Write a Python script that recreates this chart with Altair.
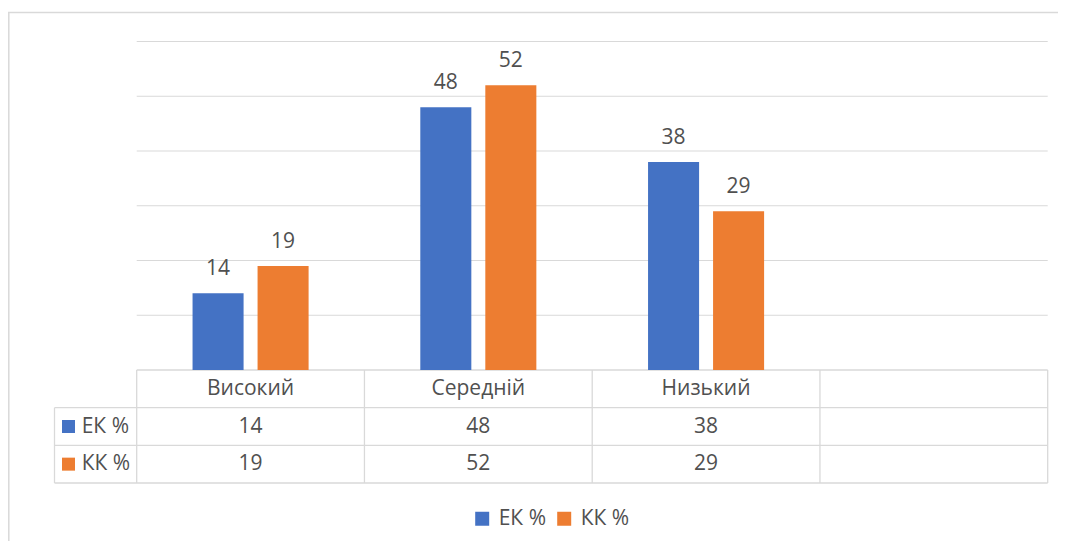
import altair as alt
import pandas as pd

categories = ["Високий", "Середній", "Низький"]
series = ["ЕК %", "КК %"]
ek_values = [14, 48, 38]
kk_values = [19, 52, 29]
grid_values = [10, 20, 30, 40, 50, 60]
colors = ["#4472C4", "#ED7D31"]

FONT = "Open Sans"
FS = 21
TXT = "#505050"
LINE = "#D9D9D9"

rows = []
for c, e, k in zip(categories, ek_values, kk_values):
    rows.append({"cat": c, "series": series[0], "value": e})
    rows.append({"cat": c, "series": series[1], "value": k})
df = pd.DataFrame(rows)

domain = categories + [""]
W, H = 1050, 533
X0, X1 = 128.7, 1039.7
XL = 46.5
Y_AX, Y_R1, Y_R2, Y_R3 = 362, 399.7, 437.3, 475

x_scale = alt.Scale(domain=domain, range=[X0, X1], paddingInner=0, paddingOuter=0)
y_scale = alt.Scale(domain=[0, 60], range=[Y_AX, 33.5])
xo_scale = alt.Scale(domain=series, paddingInner=0.215, paddingOuter=0.859)
color_scale = alt.Scale(domain=series, range=colors)

legend = alt.Legend(
    orient="none", legendX=463.7, legendY=500, direction="horizontal", title=None,
    symbolType="square", symbolSize=196, symbolStrokeWidth=0, labelFontSize=FS,
    labelFont=FONT, labelColor=TXT, labelOffset=6, columnPadding=7, padding=0,
)

X = alt.X("cat:N", scale=x_scale, axis=None)
XO = alt.XOffset("series:N", scale=xo_scale)
Y = alt.Y("value:Q", scale=y_scale, axis=None)
C = alt.Color("series:N", scale=color_scale, legend=legend)

base = alt.Chart(df)

grid = alt.Chart(pd.DataFrame({"value": grid_values})).mark_rule(
    color=LINE, strokeWidth=1.2
).encode(y=Y, x=alt.value(X0), x2=alt.value(X1))

bars = base.mark_bar().encode(x=X, xOffset=XO, y=Y, color=C)

labels = base.mark_text(dy=-24, fontSize=FS, font=FONT, color=TXT, baseline="middle").encode(
    x=X, xOffset=XO, y=Y, text="value:Q"
)

one = pd.DataFrame({"a": [0]})
def hline(y, x0, x1):
    return alt.Chart(one).mark_rule(color=LINE, strokeWidth=1.3).encode(
        y=alt.value(y), x=alt.value(x0), x2=alt.value(x1)
    )

def vline_value(x, y0, y1):
    return alt.Chart(one).mark_rule(color=LINE, strokeWidth=1.3).encode(
        x=alt.value(x), y=alt.value(y0), y2=alt.value(y1)
    )

vlines = alt.Chart(pd.DataFrame({"cat": domain})).mark_rule(color=LINE, strokeWidth=1.3).encode(
    x=alt.X("cat:N", scale=x_scale, axis=None, bandPosition=0),
    y=alt.value(Y_AX), y2=alt.value(Y_R3),
)

table_lines = [
    hline(Y_AX, X0, X1), hline(Y_R1, XL, X1), hline(Y_R2, XL, X1), hline(Y_R3, XL, X1),
    vline_value(X1, Y_AX, Y_R3), vline_value(XL, Y_R1, Y_R3), vlines,
]

header = alt.Chart(pd.DataFrame({"cat": categories})).mark_text(
    fontSize=FS, font=FONT, color=TXT, baseline="middle"
).encode(x=X, y=alt.value((Y_AX + Y_R1) / 2), text="cat:N")

row_layers = []
for s, (ya, yb) in zip(series, [(Y_R1, Y_R2), (Y_R2, Y_R3)]):
    yc = (ya + yb) / 2
    sub = base.transform_filter(alt.datum.series == s)
    row_layers.append(sub.mark_text(fontSize=FS, font=FONT, color=TXT, baseline="middle").encode(
        x=X, y=alt.value(yc), text="value:Q"))
    first = sub.transform_filter(alt.datum.cat == categories[0])
    row_layers.append(first.mark_square(size=169, opacity=1).encode(
        x=alt.value(60.5), y=alt.value(yc), color=C))
    row_layers.append(first.mark_text(fontSize=FS, font=FONT, color=TXT, align="left", baseline="middle").encode(
        x=alt.value(73.7), y=alt.value(yc), text="series:N"))

border = [
    alt.Chart(one).mark_rule(color=LINE, strokeWidth=1.5).encode(
        y=alt.value(4.5), x=alt.value(0), x2=alt.value(W)),
    alt.Chart(one).mark_rule(color=LINE, strokeWidth=1.5).encode(
        x=alt.value(0.8), y=alt.value(4.5), y2=alt.value(H)),
]

chart = alt.layer(
    *border, grid, *table_lines, bars, labels, header, *row_layers
).properties(
    width=W, height=H, autosize=alt.AutoSizeParams(type="none"), padding=0,
    background="white",
).configure_view(stroke=None)

chart.save("out.html", embed_options={"renderer": "svg", "actions": False})
